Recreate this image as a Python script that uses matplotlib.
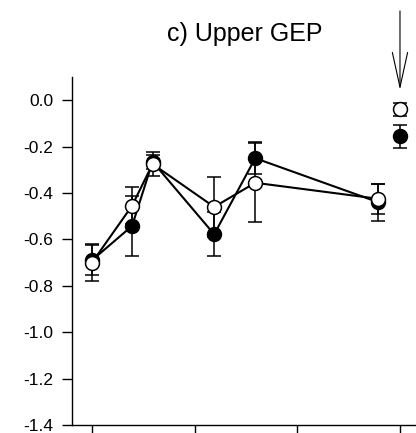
import matplotlib
matplotlib.use("Agg")
import matplotlib.pyplot as plt
from matplotlib.ticker import FormatStrFormatter

plt.rcParams["font.family"] = ["Liberation Sans", "DejaVu Sans"]
plt.rcParams["axes.unicode_minus"] = False

# Sampling times along the series
times = [0, 3.9, 5.9, 11.9, 15.9, 27.9]

# Filled-circle series: mean and error
filled_mean = [-0.690, -0.542, -0.265, -0.578, -0.250, -0.440]
filled_err = [0.065, 0.130, 0.030, 0.095, 0.070, 0.080]

# Open-circle series: mean and error
open_mean = [-0.700, -0.455, -0.275, -0.460, -0.356, -0.425]
open_err = [0.080, 0.080, 0.050, 0.130, 0.170, 0.065]

# Separate reference points (marked by the arrow)
ref_time = [30]
ref_filled_mean = [-0.155]
ref_filled_err = [0.050]
ref_open_mean = [-0.038]
ref_open_err = [0.028]

x_ticks = [0, 10, 20, 30]
y_ticks = [0.0, -0.2, -0.4, -0.6, -0.8, -1.0, -1.2, -1.4]

fig = plt.figure(figsize=(4.16, 4.33), dpi=100)
ax = fig.add_axes([72 / 416, 8 / 433, 344 / 416, 348 / 433])

common = dict(color="black", capsize=4.7, elinewidth=1.1, capthick=1.1,
              markersize=10, markeredgewidth=1.1, markeredgecolor="black")

ax.errorbar(times, filled_mean, yerr=filled_err, fmt="-o",
            markerfacecolor="black", linewidth=1.5, zorder=2, **common)
ax.errorbar(times, open_mean, yerr=open_err, fmt="-o",
            markerfacecolor="white", linewidth=1.5, zorder=3, **common)
ax.errorbar(ref_time, ref_filled_mean, yerr=ref_filled_err, fmt="o",
            markerfacecolor="black", zorder=2, **common)
ax.errorbar(ref_time, ref_open_mean, yerr=ref_open_err, fmt="o",
            markerfacecolor="white", zorder=3, **common)

ax.annotate("", xy=(ref_time[0], 0.045), xytext=(ref_time[0], 0.385),
            arrowprops=dict(arrowstyle="->,head_length=2.5,head_width=0.55",
                            color="black", linewidth=0.8,
                            shrinkA=0, shrinkB=0),
            annotation_clip=False)

ax.set_xlim(-1.95, 31.56)
ax.set_ylim(-1.4, 0.1)
ax.set_xticks(x_ticks)
ax.set_xticklabels([])
ax.set_yticks(y_ticks)
ax.yaxis.set_major_formatter(FormatStrFormatter("%.1f"))

for side in ("top", "right"):
    ax.spines[side].set_visible(False)
for side in ("left", "bottom"):
    ax.spines[side].set_linewidth(1.0)

ax.tick_params(axis="both", direction="out", length=7, width=1.0,
               labelsize=12.5, pad=6.5)

fig.text(245 / 416, 1 - 34 / 433, "c) Upper GEP", ha="center", va="center",
         fontsize=18)

fig.savefig("out.png", dpi=100)
